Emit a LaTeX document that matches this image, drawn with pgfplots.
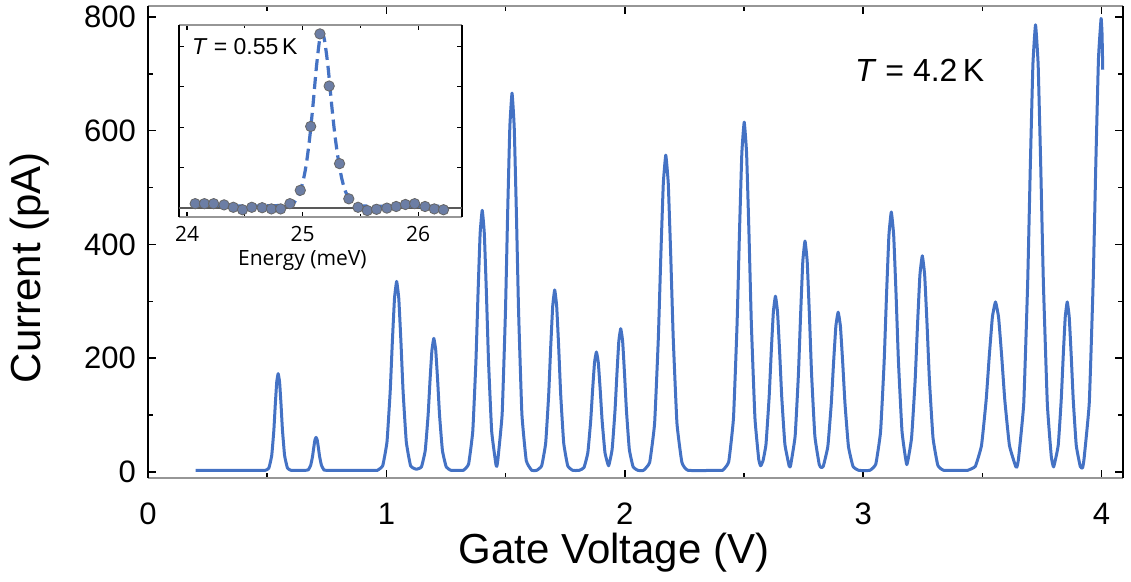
\documentclass[border=0pt]{standalone}
\usepackage{fontspec}
\setmainfont{Liberation Sans}
\newfontfamily\insetfont{Open Sans}
\usepackage{pgfplots}
\pgfplotsset{compat=1.18}
\definecolor{peakblue}{RGB}{68,114,196}
\definecolor{dotfill}{RGB}{108,126,165}
\definecolor{framegray}{RGB}{150,150,150}

\begin{document}
\begin{tikzpicture}
% Coulomb-blockade oscillations at 4.2 K
\begin{axis}[name=main, scale only axis, width=487.5pt, height=236pt,
  xmin=0, xmax=4.09, ymin=-10.5, ymax=819,
  xtick={0,1,2,3,4}, ytick={0,200,400,600,800},
  minor x tick num=1, minor y tick num=1,
  tick align=inside, major tick length=4pt, minor tick length=2.5pt,
  every tick/.style={black, line width=0.8pt},
  separate axis lines,
  x axis line style={draw=framegray, line width=1pt},
  y axis line style={draw=black, line width=1.2pt},
  /pgf/number format/assume math mode=true,
  ticklabel style={font=\fontsize{15.5}{18}\selectfont},
  xticklabel style={yshift=-9pt},
  yticklabel style={xshift=-2.5pt},
  xlabel={Gate Voltage (V)}, ylabel={Current (pA)},
  label style={font=\fontsize{21}{25}\selectfont, inner sep=0pt},
  xlabel style={at={(axis description cs:0.478,0)}, anchor=north, yshift=-27.5pt},
  ylabel style={at={(axis description cs:-0.1005,0.446)}, anchor=south},
]
\addplot[peakblue, line width=1.5pt, line join=round, smooth, tension=0.22] coordinates {
(0.20,3) (0.45,3)
(0.492,3) (0.507,7) (0.519,29) (0.528,74) (0.534,119) (0.540,158) (0.546,173) (0.552,158) (0.558,119) (0.564,74) (0.573,29) (0.585,7) (0.600,3)
(0.63,3)
(0.660,3) (0.6725,4) (0.6825,12) (0.690,27) (0.695,42) (0.700,56) (0.705,61) (0.710,56) (0.715,42) (0.720,27) (0.7275,12) (0.7375,4) (0.750,3)
(0.95,3)
(0.962,3) (0.9845,11) (1.0025,53) (1.016,142) (1.025,229) (1.034,305) (1.043,335) (1.052,305) (1.061,229) (1.070,142) (1.0835,53) (1.1015,11) (1.125,5)
(1.147,9) (1.163,38) (1.175,100) (1.183,161) (1.191,214) (1.199,235) (1.207,214) (1.215,161) (1.223,100) (1.235,38) (1.251,9) (1.271,3)
(1.30,3)
(1.3228,3) (1.3448,14) (1.3624,72) (1.3756,195) (1.3844,314) (1.3932,419) (1.402,460) (1.4108,419) (1.4196,314) (1.4284,195) (1.4416,72) (1.4592,14) (1.463,10)
(1.4672,20) (1.4856,102) (1.4994,281) (1.5086,454) (1.5178,606) (1.527,666) (1.5362,606) (1.5454,454) (1.5546,281) (1.5684,102) (1.5868,20) (1.6098,3)
(1.6304,3) (1.6514,11) (1.6682,51) (1.6808,136) (1.6892,219) (1.6976,291) (1.706,320) (1.7144,291) (1.7228,219) (1.7312,136) (1.7438,51) (1.7606,11) (1.7816,3)
(1.809,3) (1.829,8) (1.845,34) (1.857,90) (1.865,144) (1.873,192) (1.881,211) (1.889,192) (1.897,144) (1.905,90) (1.917,34) (1.932,11)
(1.947,40) (1.959,108) (1.967,172) (1.975,230) (1.983,252) (1.991,230) (1.999,172) (2.007,108) (2.019,40) (2.035,9) (2.055,3)
(2.0784,3) (2.1044,17) (2.1252,86) (2.1408,236) (2.1512,380) (2.1616,507) (2.172,557) (2.1824,507) (2.1928,380) (2.2032,236) (2.2188,86) (2.2396,17) (2.2656,3)
(2.40,3)
(2.411,3) (2.436,18) (2.456,95) (2.471,260) (2.481,419) (2.491,560) (2.501,615) (2.511,560) (2.521,419) (2.531,260) (2.546,95) (2.562,22) (2.570,11) (2.580,20)
(2.5924,49) (2.6056,132) (2.6144,211) (2.6232,281) (2.632,309) (2.6408,281) (2.6496,211) (2.6584,132) (2.6716,49) (2.6892,11) (2.693,9)
(2.6962,13) (2.7146,63) (2.7284,172) (2.7376,277) (2.7468,370) (2.756,406) (2.7652,370) (2.7744,277) (2.7836,172) (2.7974,63) (2.8158,13) (2.824,8)
(2.8326,10) (2.8518,45) (2.8662,120) (2.8758,192) (2.8854,256) (2.895,281) (2.9046,256) (2.9142,192) (2.9238,120) (2.9382,45) (2.9574,10) (2.9814,3)
(3.028,3) (3.053,14) (3.073,71) (3.088,194) (3.098,312) (3.108,416) (3.118,457) (3.128,416) (3.138,312) (3.148,194) (3.163,71) (3.183,13)
(3.203,60) (3.218,161) (3.228,259) (3.238,346) (3.248,380) (3.258,346) (3.268,259) (3.278,161) (3.293,60) (3.313,12) (3.338,3)
(3.42,3)
(3.438,3) (3.4705,10) (3.4965,47) (3.516,127) (3.529,204) (3.542,272) (3.555,299) (3.568,272) (3.581,204) (3.594,127) (3.6135,47) (3.6395,10) (3.645,9)
(3.6515,23) (3.6735,120) (3.690,332) (3.701,535) (3.712,716) (3.723,786) (3.734,716) (3.745,535) (3.756,332) (3.7725,120) (3.789,28) (3.799,9)
(3.8182,47) (3.8308,127) (3.8392,204) (3.8476,272) (3.856,299) (3.8644,272) (3.8728,204) (3.8812,127) (3.8938,47) (3.9106,10) (3.920,7)
(3.9265,23) (3.9485,122) (3.965,337) (3.976,543) (3.987,726) (3.998,797) (4.002,770) (4.005,707)
};
\node[anchor=west, font=\fontsize{16}{19}\selectfont] at (axis description cs:0.718,0.864) {\textit{T} = 4.2\,K};
\end{axis}

% single resonance at 0.55 K
\begin{axis}[name=inset, at={(main.north west)}, anchor=north west,
  xshift=15.5pt, yshift=-9.5pt,
  scale only axis, width=141.5pt, height=96pt,
  xmin=23.93, xmax=26.38, ymin=-0.22, ymax=4.53,
  xtick={24,25,26}, ytick={0,1,2,3,4}, yticklabels={}, minor x tick num=1,
  tick align=inside, major tick length=2.5pt, minor tick length=1.5pt,
  every tick/.style={black, line width=0.6pt},
  separate axis lines,
  x axis line style={draw=framegray, line width=0.8pt},
  y axis line style={draw=black, line width=0.9pt},
  axis background/.style={fill=white},
  /pgf/number format/assume math mode=true,
  ticklabel style={font=\insetfont\fontsize{10.5}{12}\selectfont},
  xticklabel style={yshift=-1pt},
  xlabel={Energy (meV)},
  xlabel style={font=\insetfont\fontsize{10.5}{12}\selectfont, inner sep=0pt, at={(axis description cs:0.436,0)}, anchor=north, yshift=-16.5pt},
]
\addplot[black!65, line width=0.7pt, forget plot] coordinates {(23.93,0) (26.38,0)};
\addplot[peakblue, line width=1.6pt, dash pattern=on 6pt off 3pt, smooth] coordinates {
(24.07,0.08) (24.50,0.05) (24.85,0.07) (24.92,0.12) (24.97,0.35) (25.00,0.62) (25.03,1.05) (25.06,1.70) (25.09,2.55) (25.12,3.50) (25.15,4.22) (25.17,4.32) (25.19,4.15) (25.22,3.50) (25.25,2.60) (25.28,1.80) (25.31,1.18) (25.34,0.72) (25.37,0.42) (25.40,0.25) (25.45,0.10) (25.55,0.05) (26.22,0.05)
};
\addplot[only marks, mark=*, mark size=2.6pt, mark options={fill=dotfill, draw=black!60, line width=0.4pt}] coordinates {
(24.07,0.11) (24.15,0.11) (24.23,0.11) (24.32,0.08) (24.40,0.02) (24.48,-0.04) (24.56,0.02) (24.65,0.01) (24.73,-0.02) (24.81,-0.02) (24.89,0.11) (24.98,0.44) (25.07,2.02) (25.15,4.31) (25.23,3.02) (25.32,1.10) (25.40,0.23) (25.48,0.02) (25.56,-0.06) (25.64,-0.03) (25.73,0.00) (25.81,0.04) (25.89,0.09) (25.97,0.11) (26.06,0.04) (26.14,-0.02) (26.22,-0.04)
};
\node[anchor=west, font=\fontsize{11.5}{14}\selectfont] at (axis description cs:0.021,0.89) {\textit{T} = 0.55\,K};
\end{axis}

\pgfresetboundingbox
\path ([xshift=-74pt,yshift=-51.5pt]main.south west) rectangle ([xshift=4pt,yshift=3pt]main.north east);
\end{tikzpicture}
\end{document}
